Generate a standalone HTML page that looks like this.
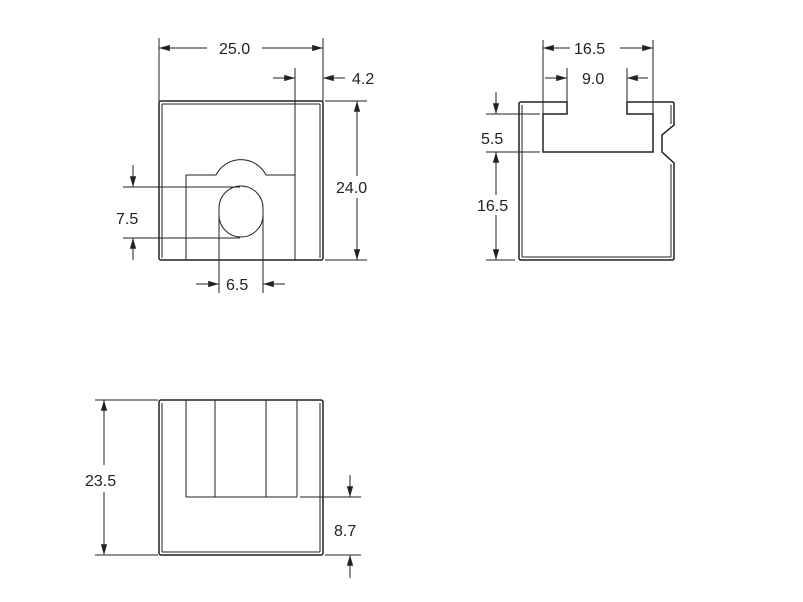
<!DOCTYPE html>
<html><head><meta charset="utf-8"><style>body{margin:0;background:#fff}svg{display:block}</style></head><body>
<svg width="803" height="602" viewBox="0 0 803 602" xmlns="http://www.w3.org/2000/svg" font-family="Liberation Sans, sans-serif" font-size="16" fill="none" stroke="#222" stroke-width="1">
<defs><marker id="a" viewBox="0 0 12 10" refX="12" refY="5" markerWidth="12" markerHeight="9" orient="auto" markerUnits="userSpaceOnUse"><path d="M0,1.5L12,5L0,8.5z" fill="#222" stroke="none"/></marker></defs>
<!-- View 1 -->
<rect x="159" y="101" width="164" height="159" rx="2" stroke-width="1.5"/>
<line x1="162" y1="104" x2="320" y2="104"/>
<line x1="162" y1="104" x2="162" y2="258"/>
<line x1="320" y1="104" x2="320" y2="258"/>
<path d="M186,260 V175 H216 A28,28 0 0 1 266,175 H295 V260"/>
<line x1="295" y1="68" x2="295" y2="175"/>
<path d="M219,208 A22,22 0 0 1 263,208 V215 A22,22 0 0 1 219,215 Z"/>
<line x1="159" y1="38" x2="159" y2="101"/><line x1="323" y1="38" x2="323" y2="101"/>
<line x1="207" y1="48" x2="159" y2="48" marker-end="url(#a)"/><line x1="262" y1="48" x2="323" y2="48" marker-end="url(#a)"/>
<text x="219" y="54" fill="#222" stroke="none">25.0</text>
<line x1="273" y1="78" x2="295" y2="78" marker-end="url(#a)"/><line x1="345" y1="78" x2="323" y2="78" marker-end="url(#a)"/>
<text x="352" y="84" fill="#222" stroke="none">4.2</text>
<line x1="325" y1="101" x2="367" y2="101"/><line x1="325" y1="260" x2="367" y2="260"/>
<line x1="357" y1="176" x2="357" y2="101" marker-end="url(#a)"/><line x1="357" y1="198" x2="357" y2="260" marker-end="url(#a)"/>
<text x="336" y="193" fill="#222" stroke="none">24.0</text>
<line x1="123" y1="187" x2="240" y2="187"/><line x1="123" y1="238" x2="240" y2="238"/>
<line x1="133" y1="165" x2="133" y2="187" marker-end="url(#a)"/><line x1="133" y1="260" x2="133" y2="238" marker-end="url(#a)"/>
<text x="116" y="224" fill="#222" stroke="none">7.5</text>
<line x1="219" y1="215" x2="219" y2="293"/><line x1="263" y1="215" x2="263" y2="293"/>
<line x1="196" y1="284" x2="219" y2="284" marker-end="url(#a)"/><line x1="285" y1="284" x2="263" y2="284" marker-end="url(#a)"/>
<text x="226" y="290" fill="#222" stroke="none">6.5</text>
<!-- View 2 -->
<path d="M521,102 H567 V114 H543 V152 H653 V114 H627 V102 H672 Q674,102 674,104 V125 L662,135 V152 L674,163 V258 Q674,260 672,260 H521 Q519,260 519,258 V104 Q519,102 521,102Z" stroke-width="1.5"/>
<line x1="522" y1="105" x2="522" y2="257"/><line x1="522" y1="257" x2="671" y2="257"/><line x1="671" y1="105" x2="671" y2="124"/><line x1="671" y1="164" x2="671" y2="257"/>
<line x1="543" y1="40" x2="543" y2="114"/><line x1="653" y1="40" x2="653" y2="152"/>
<line x1="567" y1="68" x2="567" y2="102"/><line x1="627" y1="68" x2="627" y2="102"/>
<line x1="570" y1="48" x2="543" y2="48" marker-end="url(#a)"/><line x1="620" y1="48" x2="653" y2="48" marker-end="url(#a)"/>
<text x="574" y="54" fill="#222" stroke="none">16.5</text>
<line x1="545" y1="78" x2="567" y2="78" marker-end="url(#a)"/><line x1="648" y1="78" x2="627" y2="78" marker-end="url(#a)"/>
<text x="582" y="84" fill="#222" stroke="none">9.0</text>
<line x1="486" y1="114" x2="540" y2="114"/><line x1="486" y1="152" x2="540" y2="152"/><line x1="486" y1="260" x2="515" y2="260"/>
<line x1="496" y1="92" x2="496" y2="114" marker-end="url(#a)"/>
<text x="481" y="144" fill="#222" stroke="none">5.5</text>
<line x1="496" y1="195" x2="496" y2="152" marker-end="url(#a)"/><line x1="496" y1="215" x2="496" y2="260" marker-end="url(#a)"/>
<text x="477" y="211" fill="#222" stroke="none">16.5</text>
<!-- View 3 -->
<rect x="159" y="400" width="164" height="155" rx="2" stroke-width="1.5"/>
<line x1="162" y1="403" x2="162" y2="552"/><line x1="320" y1="403" x2="320" y2="552"/><line x1="162" y1="552" x2="320" y2="552"/>
<line x1="186" y1="400" x2="186" y2="497"/><line x1="215" y1="400" x2="215" y2="497"/><line x1="266" y1="400" x2="266" y2="497"/><line x1="297" y1="400" x2="297" y2="497"/>
<line x1="186" y1="497" x2="297" y2="497"/>
<line x1="300" y1="497" x2="361" y2="497"/><line x1="325" y1="555" x2="361" y2="555"/>
<line x1="95" y1="400" x2="158" y2="400"/><line x1="95" y1="555" x2="158" y2="555"/>
<line x1="104" y1="465" x2="104" y2="400" marker-end="url(#a)"/><line x1="104" y1="492" x2="104" y2="555" marker-end="url(#a)"/>
<text x="85" y="486" fill="#222" stroke="none">23.5</text>
<line x1="350" y1="475" x2="350" y2="497" marker-end="url(#a)"/><line x1="350" y1="578" x2="350" y2="555" marker-end="url(#a)"/>
<text x="334" y="536" fill="#222" stroke="none">8.7</text>
</svg>
</body></html>
